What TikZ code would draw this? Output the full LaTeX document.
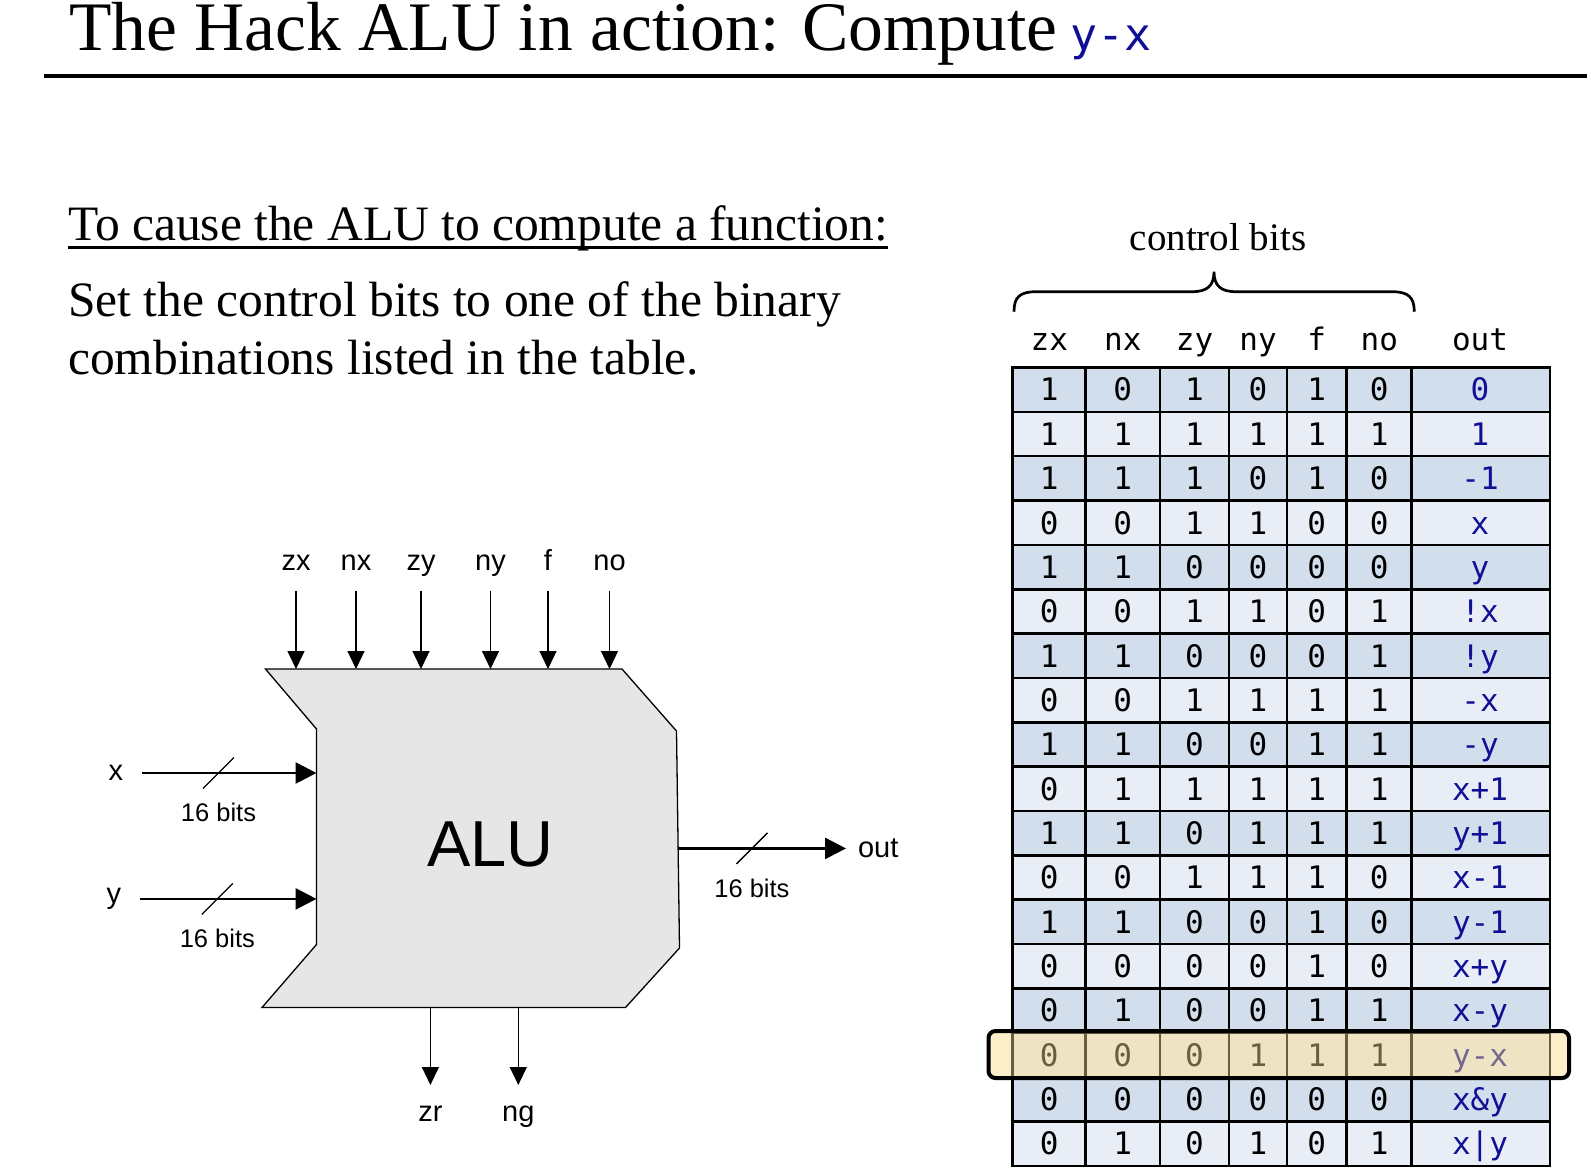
\documentclass[tikz,border=0pt]{standalone}
\usepackage{fontspec}
\setmainfont{Liberation Serif}
\setsansfont{Liberation Sans}
\setmonofont{DejaVu Sans Mono}
\usetikzlibrary{arrows.meta, positioning, calc}

\definecolor{outblue}{RGB}{16,16,150}
\definecolor{shade0}{RGB}{211,222,237}
\definecolor{shade1}{RGB}{233,238,246}
\definecolor{alugray}{RGB}{230,230,230}
\definecolor{hiyellow}{RGB}{246,216,133}

\begin{document}
\begin{tikzpicture}[
  x = 1pt, y = -1pt,
  slide/.style  = {inner sep=0pt, anchor=base west, font=\fontsize{49.5}{58}\selectfont},
  hdr/.style    = {inner sep=0pt, anchor=base, font=\fontsize{31}{31}\ttfamily},
  bit/.style    = {inner sep=0pt, text height=22.6pt, text depth=0pt,
                   font=\fontsize{31}{31}\ttfamily},
  res/.style    = {bit, text=outblue},
  grid/.style   = {line width=2.5pt, line cap=rect},
  hilite/.style = {draw=black, line width=4pt, rounded corners=7pt,
                   fill=hiyellow, fill opacity=0.44},
  alu/.style    = {draw=black, line width=1.3pt, fill=alugray},
  pin/.style    = {inner sep=0pt, font=\sffamily\fontsize{29}{29}\selectfont},
  ctl/.style    = {line width=1.3pt, -{Triangle[length=18pt, width=17pt]}},
  bus/.style    = {line width=2.7pt, -{Triangle[length=21pt, width=21pt]}},
  slash/.style  = {line width=1.3pt},
  bits/.style   = {inner sep=0pt, font=\sffamily\fontsize{25.5}{25.5}\selectfont},
]
\useasboundingbox (0,0) rectangle (1596,1171);

% ── Title ─────────────────────────────────────────────────────────────────────
\node[slide, font=\fontsize{69.5}{70}\selectfont] (title) at (69,50.5)
  {The Hack ALU in action: Compute\hspace{13pt}{\ttfamily\fontsize{45}{45}\selectfont\color{outblue}y-x}};
\draw[line width=3.5pt] (44,76) -- (1587,76);

% ── Text ──────────────────────────────────────────────────────────────────────
\node[slide] (intro) at (68,240.7) {To cause the ALU to compute a function:};
\draw[line width=2.5pt] ([yshift=-6.6pt]intro.base west) -- ([yshift=-6.6pt]intro.base east);
\node[slide] (set)   at (68,316)   {Set the control bits to one of the binary};
\node[slide] (combo) at (68,374.3) {combinations listed in the table.};

% ── Control bits brace + headers ──────────────────────────────────────────────
\node[inner sep=0pt, anchor=base, font=\fontsize{39}{39}\selectfont] (ctlbits) at (1218,250.5) {control bits};
\draw[line width=2.7pt] (1014,311.7) .. controls (1014,297) and (1020,291.7) .. (1036,291.7)
  -- (1192,291.7) .. controls (1207,291.7) and (1214,286) .. (1214,271.7)
  .. controls (1214,286) and (1221,291.7) .. (1236,291.7)
  -- (1392,291.7) .. controls (1408,291.7) and (1414.3,297) .. (1414.3,311.7);

\foreach \h/\x in {zx/1049.3, nx/1122.8, zy/1194.5, ny/1258, f/1316.75, no/1379.25, out/1480}
  \node[hdr] (h-\h) at (\x,350) {\h};

% ── Table ─────────────────────────────────────────────────────────────────────
\foreach \r in {0,...,17} {
  \pgfmathtruncatemacro\odd{mod(\r,2)}
  \fill[shade\odd] (1012.5,{367.5+44.35*\r}) rectangle (1550,{367.5+44.35*(\r+1)});
}

\foreach \zx/\nx/\zy/\ny/\fn/\no/\res [count=\r from 0] in
  {1/0/1/0/1/0/0, 1/1/1/1/1/1/1, 1/1/1/0/1/0/-1, 0/0/1/1/0/0/x,
   1/1/0/0/0/0/y, 0/0/1/1/0/1/!x, 1/1/0/0/0/1/!y, 0/0/1/1/1/1/-x,
   1/1/0/0/1/1/-y, 0/1/1/1/1/1/x+1, 1/1/0/1/1/1/y+1, 0/0/1/1/1/0/x-1,
   1/1/0/0/1/0/y-1, 0/0/0/0/1/0/x+y, 0/1/0/0/1/1/x-y, 0/0/0/1/1/1/y-x,
   0/0/0/0/0/0/x\&y, 0/1/0/1/0/1/x|y} {
  \pgfmathsetmacro\ym{367.5+44.35*\r+22.175}
  \foreach \h/\v in {zx/\zx, nx/\nx, zy/\zy, ny/\ny, f/\fn, no/\no}
    \node[bit] (\h-\r) at (h-\h |- 0,\ym) {\v};
  \node[res] (out-\r) at (h-out |- 0,\ym) {\res};
}

\foreach \x in {1012.5, 1085.7, 1160, 1229, 1287, 1346.5, 1411.7, 1550}
  \draw[grid] (\x,367.5) -- (\x,1165.8);
\foreach \r in {0,...,18}
  \draw[grid] (1012.5,{367.5+44.35*\r}) -- (1550,{367.5+44.35*\r});

% ── Selected row ──────────────────────────────────────────────────────────────
\draw[hilite] (988.5,1031) rectangle (1569,1078);

% ── ALU body ──────────────────────────────────────────────────────────────────
\draw[alu] (265.5,669) -- (622,669) -- (676.5,731) -- (679.5,948) -- (625.5,1007.5)
  -- (262,1007.5) -- (316.5,944.5) -- (316.5,729) -- cycle;
\node[font=\sffamily\fontsize{65}{65}\selectfont, inner sep=0pt] (alu) at (490.6,844.4) {ALU};

\coordinate (alutop) at (0,669);
\coordinate (alu-x)   at (316.5,773);
\coordinate (alu-y)   at (316.5,898.9);
\coordinate (alu-out) at (678,848.4);

% ── Control inputs ────────────────────────────────────────────────────────────
\foreach \n/\x in {zx/296, nx/356, zy/421, ny/490.5, f/548, no/609.5} {
  \node[pin, anchor=base, text depth=0pt, outer ysep=20pt] (p-\n) at (\x,570.5) {\n};
  \draw[ctl] (p-\n.south) -- (p-\n.south |- alutop);
}

% ── Status outputs ────────────────────────────────────────────────────────────
\foreach \n/\x in {zr/430.4, ng/518.3} {
  \coordinate (alu-\n) at (\x,1007.5);
  \node[pin, anchor=base, text height=15pt, outer ysep=21pt] (p-\n) at (\x,1121) {\n};
  \draw[ctl] (alu-\n) -- (p-\n.north);
}

% ── Data buses ────────────────────────────────────────────────────────────────
\node[pin, anchor=east, outer xsep=18.5pt] (p-x) at (141.5,773) {x};
\node[pin, anchor=east, outer xsep=18.5pt] (p-y) at (139.5,898.9) {y};
\node[pin, anchor=west, outer xsep=12pt] (p-out) at (846,848.4) {out};

\foreach \from/\to/\s in {p-x.east/alu-x/x, p-y.east/alu-y/y, alu-out/p-out.west/out} {
  \draw[bus] (\from) -- (\to);
  \coordinate (s-\s) at ($(\from)!0.44!(\to)$);
  \draw[slash] ([shift={(-15.5,15.5)}]s-\s) -- ([shift={(15.5,-15.5)}]s-\s);
  \node[bits, below=30pt of s-\s] (bits-\s) {16 bits};
}

\end{tikzpicture}
\end{document}
